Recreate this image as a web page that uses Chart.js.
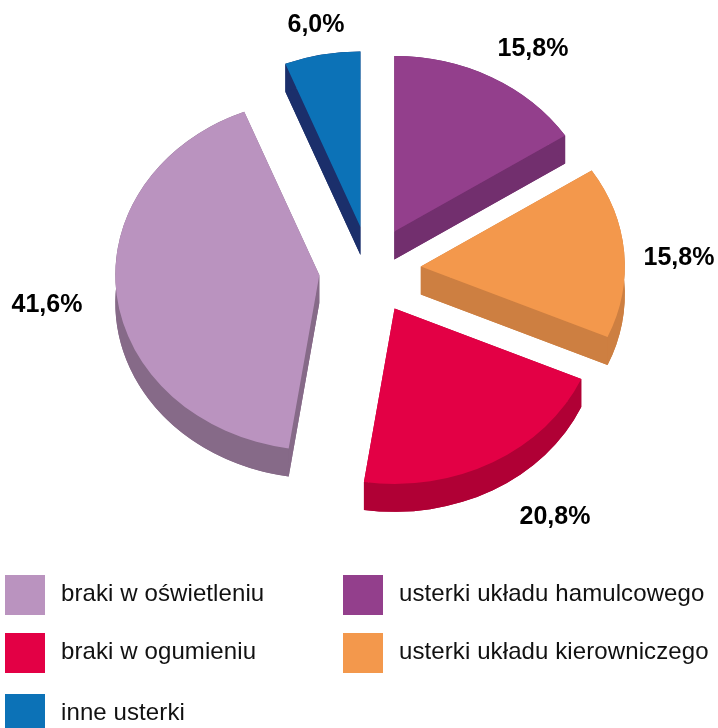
<!DOCTYPE html>
<html>
<head>
<meta charset="utf-8">
<title>Usterki</title>
<script src="https://cdn.jsdelivr.net/npm/chart.js@4"></script>
<style>
    html, body { margin: 0; padding: 0; background: #fff; }
    #wrap { position: relative; width: 718px; height: 728px; overflow: hidden; }
    #myChart { position: absolute; left: 0; top: 0; }
    .key { position: absolute; width: 40px; height: 40px; }
    .keyText {
        position: absolute; font: 24px "Liberation Sans", sans-serif; color: #111;
        letter-spacing: 0.1px; line-height: 40px; white-space: nowrap;
    }
</style>
</head>
<body>
<div id="wrap"><canvas id="myChart" width="718" height="728"></canvas></div>
<script>
        // Sample data, clockwise from the top of the pie
        const categories = ['usterki układu hamulcowego', 'usterki układu kierowniczego', 'braki w ogumieniu', 'braki w oświetleniu', 'inne usterki'];
        const shares = [15.8, 15.8, 20.8, 41.6, 6.0];
        const topColors = ['#933f8c', '#f3984c', '#e30045', '#ba93bf', '#0c72b7'];
        const sideColors = ['#722f6e', '#cd7f41', '#b00035', '#866a88', '#1b2f6b'];
        const legendOrder = ['braki w oświetleniu', 'usterki układu hamulcowego', 'braki w ogumieniu', 'usterki układu kierowniczego', 'inne usterki'];

        // Fake 3D look
        const center = { x: 370, y: 270 };
        const flatten = 0.86;
        const explode = 51;
        const depth = 28;
        const labelSpots = [[533, 48], [679, 257], [555, 516], [47, 304], [316, 24]];

        const pie3d = {
            id: 'pie3d',
            beforeDatasetDraw(chart) {
                const ctx = chart.ctx;
                const arcs = chart.getDatasetMeta(0).data;
                arcs.forEach((arc, i) => {
                    const mid = (arc.startAngle + arc.endAngle) / 2;
                    const ax = center.x + Math.cos(mid) * explode;
                    const ay = center.y + Math.sin(mid) * explode * flatten;
                    const rx = arc.outerRadius;
                    const ry = rx * flatten;
                    const s = arc.startAngle, e = arc.endAngle;

                    // side wall: bottom face, both cut edges, outer band
                    ctx.save();
                    ctx.fillStyle = sideColors[i];
                    ctx.beginPath();
                    ctx.moveTo(ax, ay + depth);
                    ctx.ellipse(ax, ay + depth, rx, ry, 0, s, e);
                    ctx.closePath();
                    ctx.fill();
                    [s, e].forEach(a => {
                        const ex = ax + Math.cos(a) * rx;
                        const ey = ay + Math.sin(a) * ry;
                        ctx.beginPath();
                        ctx.moveTo(ax, ay);
                        ctx.lineTo(ex, ey);
                        ctx.lineTo(ex, ey + depth);
                        ctx.lineTo(ax, ay + depth);
                        ctx.closePath();
                        ctx.fill();
                    });
                    ctx.beginPath();
                    ctx.ellipse(ax, ay, rx, ry, 0, s, e);
                    ctx.ellipse(ax, ay + depth, rx, ry, 0, e, s, true);
                    ctx.closePath();
                    ctx.fill();
                    ctx.restore();

                    // top face, the library's own arc
                    ctx.save();
                    ctx.translate(ax - arc.x, ay - arc.y * flatten);
                    ctx.scale(1, flatten);
                    arc.draw(ctx);
                    ctx.restore();
                });
                return false;
            },
            afterDatasetsDraw(chart) {
                const ctx = chart.ctx;
                ctx.save();
                ctx.font = 'bold 25px "Liberation Sans", sans-serif';
                ctx.fillStyle = '#000';
                ctx.textAlign = 'center';
                ctx.textBaseline = 'middle';
                shares.forEach((v, i) => {
                    ctx.fillText(v.toFixed(1).replace('.', ',') + '%', labelSpots[i][0], labelSpots[i][1] + 1);
                });
                ctx.restore();
            }
        };

        const data = {
            labels: categories,
            datasets: [{
                data: shares,
                backgroundColor: topColors,
                borderWidth: 0,
                radius: 204
            }]
        };

        // Chart configuration
        const config = {
            type: 'pie',
            data: data,
            options: {
                responsive: false,
                animation: false,
                plugins: {
                    legend: { display: false },
                    tooltip: { enabled: false }
                }
            },
            plugins: [pie3d]
        };

        // Render the chart
        var myChart = new Chart(document.getElementById('myChart'), config);

        // Legend, two columns
        const wrap = document.getElementById('wrap');
        const rowTops = [575, 633, 694];
        legendOrder.forEach((name, i) => {
            const col = i % 2 ? 343 : 5;
            const top = rowTops[Math.floor(i / 2)];
            const box = document.createElement('div');
            box.className = 'key';
            box.style.left = col + 'px';
            box.style.top = top + 'px';
            box.style.background = topColors[categories.indexOf(name)];
            wrap.appendChild(box);
            const txt = document.createElement('div');
            txt.className = 'keyText';
            txt.style.left = (col + 56) + 'px';
            txt.style.top = (top - 2) + 'px';
            txt.textContent = name;
            wrap.appendChild(txt);
        });
</script>
</body>
</html>
